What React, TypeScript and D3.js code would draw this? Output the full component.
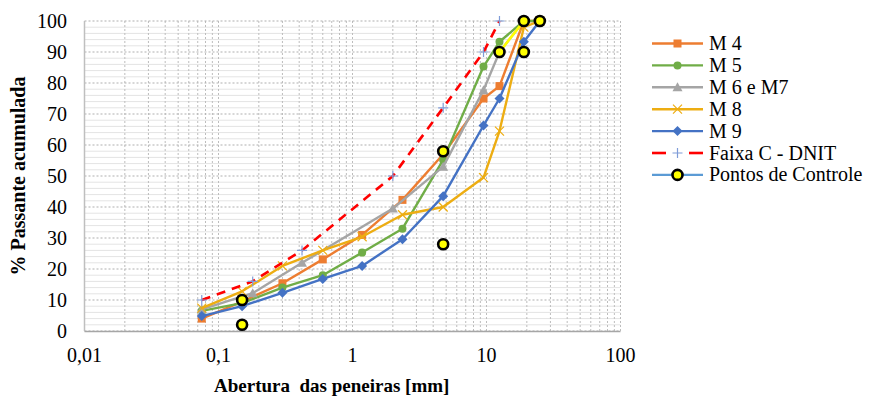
import React from "react";
import * as d3 from "d3";

// ---------- data ----------
const sievesM = [0.075, 0.15, 0.3, 0.6, 1.18, 2.36, 4.75, 9.5, 12.5, 19, 25];
const m4 = [4, 9.5, 15.4, 23.1, 31, 42.3, 57, 75, 79, 100, 100];
const m5 = [6.5, 9, 14, 18, 25.3, 33, 55.2, 85.3, 93.3, 100, 100];
const m8 = [7.4, 12.8, 21, 26, 30.4, 37.5, 40, 49.5, 64.5, 98, 100];
const m9 = [4.8, 8, 12.3, 16.8, 21, 29.6, 43.5, 66.3, 75, 93.3, 100];
const sievesB = [0.075, 0.18, 0.42, 2.0, 4.75, 9.5, 12.5, 19];
const m6m7 = [7, 12.2, 22, 39.5, 53, 77.7, 90, 100];
const sievesDnit = [0.075, 0.18, 0.42, 2.0, 4.75, 9.5, 12.5];
const dnitC = [10, 16, 26, 50, 72, 90, 100];
const controlSieves = [0.15, 0.15, 4.75, 4.75, 12.5, 19, 19, 25];
const controlValues = [2, 10, 28, 58, 90, 90, 100, 100];
const controlLinkSieves = [12.5, 19];
const controlLinkValues = [90, 100];
const xTickValues = [0.01, 0.1, 1, 10, 100];
const xTickLabels = ["0,01", "0,1", "1", "10", "100"];
const yTickValues = [0, 10, 20, 30, 40, 50, 60, 70, 80, 90, 100];
const legendLabels = ["M 4", "M 5", "M 6 e M7", "M 8", "M 9", "Faixa C - DNIT", "Pontos de Controle"];

const W = 869;
const H = 398;
const FONT = "'Liberation Serif', 'Times New Roman', serif";

const x = d3.scaleLog().domain([0.01, 100]).range([84.5, 620.5]);
const y = d3.scaleLinear().domain([0, 100]).range([331, 21]);

type Pt = [number, number];
const zip = (xs: number[], ys: number[]): Pt[] => xs.map((v, i) => [v, ys[i]]);
const line = d3
  .line<Pt>()
  .x((d) => x(d[0]))
  .y((d) => y(d[1]));

const C = {
  m4: "#ED7D31",
  m5: "#70AD47",
  m6: "#A5A5A5",
  m8: "#EDAD12",
  m9: "#4472C4",
  dnit: "#FF0000",
  plus: "#7F9CD8",
  ctrl: "#5B9BD5",
};

function Marker({ kind, cx, cy, color }: { kind: string; cx: number; cy: number; color: string }) {
  if (kind === "square") return <rect x={cx - 4} y={cy - 4} width={8} height={8} fill={color} />;
  if (kind === "circle") return <circle cx={cx} cy={cy} r={4} fill={color} />;
  if (kind === "triangle")
    return <path d={`M${cx},${cy - 5} L${cx + 5},${cy + 4} L${cx - 5},${cy + 4} Z`} fill={color} />;
  if (kind === "x")
    return (
      <path
        d={`M${cx - 4.5},${cy - 4.5} L${cx + 4.5},${cy + 4.5} M${cx - 4.5},${cy + 4.5} L${cx + 4.5},${cy - 4.5}`}
        stroke={color}
        strokeWidth={1.2}
      />
    );
  if (kind === "diamond")
    return <path d={`M${cx},${cy - 5} L${cx + 5},${cy} L${cx},${cy + 5} L${cx - 5},${cy} Z`} fill={color} />;
  if (kind === "plus")
    return (
      <path
        d={`M${cx - 5},${cy} L${cx + 5},${cy} M${cx},${cy - 5} L${cx},${cy + 5}`}
        stroke={color}
        strokeWidth={1.2}
      />
    );
  if (kind === "ctrl")
    return <circle cx={cx} cy={cy} r={5} fill="#FFFF00" stroke="#000" strokeWidth={2.6} />;
  return null;
}

const series = [
  { name: legendLabels[0], pts: zip(sievesM, m4), color: C.m4, marker: "square", mcolor: C.m4 },
  { name: legendLabels[1], pts: zip(sievesM, m5), color: C.m5, marker: "circle", mcolor: C.m5 },
  { name: legendLabels[2], pts: zip(sievesB, m6m7), color: C.m6, marker: "triangle", mcolor: C.m6 },
  { name: legendLabels[3], pts: zip(sievesM, m8), color: C.m8, marker: "x", mcolor: C.m8 },
  { name: legendLabels[4], pts: zip(sievesM, m9), color: C.m9, marker: "diamond", mcolor: C.m9 },
];

export default function App() {
  const minorX: number[] = [];
  [0.01, 0.1, 1, 10].forEach((d) => {
    for (let k = 1; k <= 9; k++) minorX.push(d * k);
  });
  minorX.push(100);
  const minorY: number[] = [];
  for (let v = 2; v < 100; v += 2) if (v % 10 !== 0) minorY.push(v);

  const dnitPts = zip(sievesDnit, dnitC);
  const ctrlPts = zip(controlSieves, controlValues);
  const linkPts = zip(controlLinkSieves, controlLinkValues);

  const legX1 = 652;
  const legX2 = 703;
  const legY0 = 43.5;
  const legDy = 21.9;

  return (
    <svg
      width={W}
      height={H}
      style={{ position: "absolute", left: 0, top: 0, background: "#fff" }}
      fontFamily={FONT}
    >
      <defs>
        <linearGradient id="rb" x1="0" y1="0" x2="0" y2="1">
          <stop offset="0" stopColor="#9DC3E6" stopOpacity={0} />
          <stop offset="0.5" stopColor="#9DC3E6" stopOpacity={0.9} />
          <stop offset="1" stopColor="#9DC3E6" stopOpacity={1} />
        </linearGradient>
      </defs>
      <rect x={0} y={0} width={W} height={H} fill="#fff" />
      {/* minor horizontal grid */}
      {minorY.map((v) => (
        <line key={"my" + v} x1={x(0.01)} x2={x(100)} y1={y(v)} y2={y(v)} stroke="#E4E4E4" strokeWidth={1} />
      ))}
      {/* vertical grid */}
      {minorX.map((v, i) => (
        <line
          key={"vx" + i}
          x1={x(v)}
          x2={x(v)}
          y1={y(100)}
          y2={y(0)}
          stroke="#BDBDBD"
          strokeWidth={1}
          strokeDasharray="2,2"
        />
      ))}
      {/* major horizontal grid */}
      {yTickValues.map((v) => (
        <line
          key={"gy" + v}
          x1={x(0.01)}
          x2={x(100)}
          y1={y(v)}
          y2={y(v)}
          stroke="#B0B0B0"
          strokeWidth={1.2}
          strokeDasharray="2,2"
        />
      ))}
      {/* axes */}
      <line x1={x(0.01)} x2={x(0.01)} y1={y(100)} y2={y(0)} stroke="#BFBFBF" strokeWidth={1.5} />
      <line x1={x(0.01)} x2={x(100)} y1={y(0) + 0.5} y2={y(0) + 0.5} stroke="#A6A6A6" strokeWidth={1.5} />
      <line x1={x(100) + 1} x2={x(100) + 1} y1={y(45)} y2={y(0)} stroke="url(#rb)" strokeWidth={1.5} />

      {/* tick labels */}
      {yTickValues.map((v) => (
        <text key={"ty" + v} x={67} y={y(v) + 7} textAnchor="end" fontSize={20} fill="#000">
          {v}
        </text>
      ))}
      {xTickValues.map((v, i) => (
        <text key={"tx" + v} x={x(v)} y={362} textAnchor="middle" fontSize={20} fill="#000">
          {xTickLabels[i]}
        </text>
      ))}
      <text x={214} y={392} fontSize={19} fontWeight="bold" style={{ whiteSpace: "pre" }}>
        {"Abertura  das peneiras [mm]"}
      </text>
      <text
        transform={`translate(25,${176}) rotate(-90)`}
        x={0}
        y={0}
        textAnchor="middle"
        fontSize={20}
        fontWeight="bold"
      >
        % Passante acumulada
      </text>

      {/* series */}
      {series.map((s) => (
        <g key={s.name}>
          <path d={line(s.pts) || ""} fill="none" stroke={s.color} strokeWidth={2.4} strokeLinejoin="round" />
          {s.pts.map((p, i) => (
            <Marker key={i} kind={s.marker} cx={x(p[0])} cy={y(p[1])} color={s.mcolor} />
          ))}
        </g>
      ))}
      <path
        d={line(dnitPts) || ""}
        fill="none"
        stroke={C.dnit}
        strokeWidth={2.6}
        strokeDasharray="9,7"
      />
      {dnitPts.map((p, i) => (
        <Marker key={"dn" + i} kind="plus" cx={x(p[0])} cy={y(p[1])} color={C.plus} />
      ))}
      <path d={line(linkPts) || ""} fill="none" stroke="#FFFF00" strokeWidth={2.6} />
      {ctrlPts.map((p, i) => (
        <Marker key={"ct" + i} kind="ctrl" cx={x(p[0])} cy={y(p[1])} color="#FFFF00" />
      ))}

      {/* legend */}
      {series.map((s, i) => {
        const ly = legY0 + i * legDy;
        return (
          <g key={"lg" + i}>
            <line x1={legX1} x2={legX2} y1={ly} y2={ly} stroke={s.color} strokeWidth={2.4} />
            <Marker kind={s.marker} cx={(legX1 + legX2) / 2} cy={ly} color={s.mcolor} />
            <text x={709} y={ly + 6.5} fontSize={20}>
              {s.name}
            </text>
          </g>
        );
      })}
      {(() => {
        const ly = legY0 + 5 * legDy;
        return (
          <g>
            <line x1={legX1} x2={legX1 + 14} y1={ly} y2={ly} stroke={C.dnit} strokeWidth={2.6} />
            <line x1={legX2 - 14} x2={legX2} y1={ly} y2={ly} stroke={C.dnit} strokeWidth={2.6} />
            <Marker kind="plus" cx={(legX1 + legX2) / 2} cy={ly} color={C.plus} />
            <text x={709} y={ly + 6.5} fontSize={20}>
              {legendLabels[5]}
            </text>
          </g>
        );
      })()}
      {(() => {
        const ly = legY0 + 6 * legDy;
        return (
          <g>
            <line x1={legX1} x2={legX2} y1={ly} y2={ly} stroke={C.ctrl} strokeWidth={2.4} />
            <Marker kind="ctrl" cx={(legX1 + legX2) / 2} cy={ly} color="#FFFF00" />
            <text x={709} y={ly + 6.5} fontSize={20}>
              {legendLabels[6]}
            </text>
          </g>
        );
      })()}
    </svg>
  );
}
